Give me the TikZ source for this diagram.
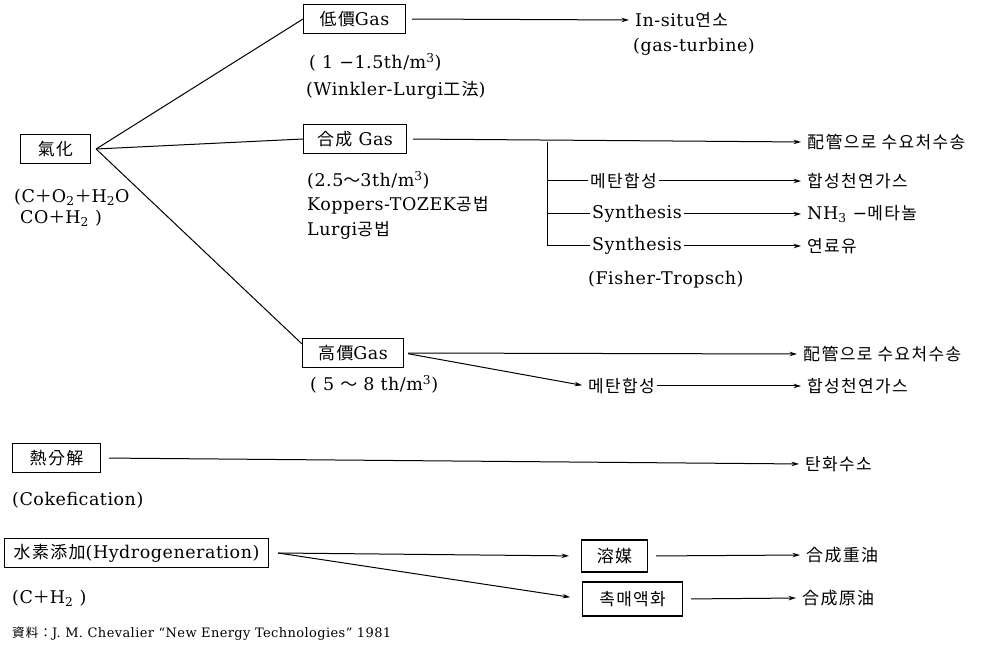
\documentclass[tikz,border=0pt]{standalone}
\usepackage{fontspec}
\setmainfont{DejaVu Serif}[LetterSpace=3]
\newfontfamily\cjk{Noto Sans CJK KR}[Scale=0.97, LetterSpace=8]
\usetikzlibrary{positioning,calc,arrows.meta}
\tikzset{font=\fontsize{17.5}{21}\selectfont}
\tikzset{
	box/.style={draw, line width=1.1pt, minimum height=29pt, inner xsep=5pt},
	ln/.style={line width=1pt},
	arr/.style={ln, -{Stealth[length=7.5pt,width=4.5pt]}, shorten >=4pt},
}
\newcommand{\sbs}[1]{\textsubscript{#1}}

\begin{document}
\begin{tikzpicture}[x=1pt, y=-1pt]
	\useasboundingbox (0,0) rectangle (1005,652);
	\begin{scope}
		\tikzstyle{every node}=[anchor=west, inner sep=2pt]
		% gasification
		\node[box, minimum width=70pt] (gasif) at (20,149) {\cjk 氣化};
		\node (eq1) at (12,197) {(C{\cjk ＋}O\sbs{2}{\cjk ＋}H\sbs{2}O};
		\node (eq2) at (18,218) {CO{\cjk ＋}H\sbs{2} )};
		\coordinate (fan) at ([xshift=5pt]gasif.east);

		\node[box, minimum width=102pt] (lowgas) at (303,19) {{\cjk 低價}Gas};
		\node (lowrate) at (307,62) {( 1 −1.5th/m\textsuperscript{3})};
		\node (lowproc) at (304,90) {(Winkler-Lurgi{\cjk 工法})};
		\node (insitu) at (633,20) {In-situ{\cjk 연소}};
		\node (turb) at (631,47) {(gas-turbine)};

		\node[box, minimum width=103pt] (syngas) at (303,139) {{\cjk 合成}\ Gas};
		\node (synrate) at (305,180) {(2.5{\cjk ～}3th/m\textsuperscript{3})};
		\node (synproc) at (305,205) {Koppers-TOZEK{\cjk 공법}};
		\node (synlurgi) at (305,230) {Lurgi{\cjk 공법}};
		\node (pipe1) at (805,142) {\cjk 配管으로 수요처수송};
		\coordinate (split) at (547,142);
		\node (meth1) at (588,181) {\cjk 메탄합성};
		\node (syn1) at (590,214) {Synthesis};
		\node (syn2) at (590,246) {Synthesis};
		\node (ft) at (586,280) {(Fisher-Tropsch)};
		\node (sng1) at (805,181) {\cjk 합성천연가스};
		\node (nh3) at (805,214) {NH\sbs{3} −{\cjk 메타놀}};
		\node (fuel) at (805,246) {\cjk 연료유};

		\node[box, minimum width=101pt] (highgas) at (302,353) {{\cjk 高價}Gas};
		\node (hirate) at (308,384) {( 5 {\cjk ～} 8 th/m\textsuperscript{3})};
		\node (pipe2) at (801,354) {\cjk 配管으로 수요처수송};
		\node (meth2) at (586,386) {\cjk 메탄합성};
		\node (sng2) at (805,386) {\cjk 합성천연가스};

		% pyrolysis
		\node[box, minimum width=88pt] (pyro) at (12,458) {\cjk 熱分解};
		\node (coke) at (10,500) {(Cokefication)};
		\node (hc) at (803,464) {\cjk 탄화수소};

		% hydrogenation
		\node[box, minimum width=264pt, inner xsep=3pt] (hydro) at (4,553) {{\cjk 水素添加}(Hydrogeneration)};
		\node (ch2) at (10,598) {(C{\cjk ＋}H\sbs{2} )};
		\coordinate (hsplit) at ([xshift=9pt]hydro.east);
		\node[box, minimum width=66pt, minimum height=32pt] (solv) at (581,556) {\cjk 溶媒};
		\node[box, minimum width=100pt, minimum height=34pt] (cat) at (582,599) {\cjk 촉매액화};
		\node (heavy) at (804,555) {\cjk 合成重油};
		\node (crude) at (800,598) {\cjk 合成原油};

		\node (src) at (10,634) {\fontsize{13}{15}\selectfont{\cjk 資料：}J. M. Chevalier “New Energy Technologies” 1981};

		\draw [ln] (fan) to (lowgas.west);
		\draw [ln] (fan) to (syngas.west);
		\draw [ln] (fan) to ([yshift=-6pt]highgas.north west);
		\draw [arr, shorten <=6pt] (lowgas.east) to (insitu.west);

		\draw [arr, shorten <=6pt] (syngas.east) to (pipe1.west);
		\draw [ln] (split) |- (syn2.west);
		\draw [ln] (split |- meth1.west) to (meth1.west);
		\draw [ln] (split |- syn1.west) to (syn1.west);
		\draw [arr] (meth1.east) to (sng1.west);
		\draw [arr] (syn1.east) to (nh3.west);
		\draw [arr] (syn2.east) to (fuel.west);

		\draw [arr, shorten <=4pt] (highgas.east) to (pipe2.west);
		\draw [arr, shorten <=4pt] (highgas.east) to (meth2.west);
		\draw [arr] (meth2.east) to (sng2.west);

		\draw [arr, shorten <=8pt] (pyro.east) to (hc.west);

		\draw [arr, shorten >=12pt] (hsplit) to (solv.west);
		\draw [arr, shorten >=12pt] (hsplit) to (cat.west);
		\draw [arr, shorten <=8pt] (solv.east) to (heavy.west);
		\draw [arr, shorten <=8pt] (cat.east) to (crude.west);
	\end{scope}
\end{tikzpicture}
\end{document}
